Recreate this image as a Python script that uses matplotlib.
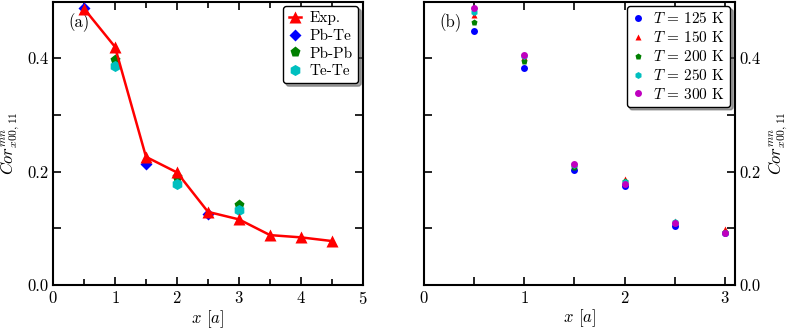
import matplotlib
matplotlib.use("Agg")
import matplotlib.pyplot as plt
from matplotlib.ticker import MultipleLocator, FixedLocator

plt.rcParams['font.family'] = 'serif'
plt.rcParams['font.serif'] = ['cmr10']
plt.rcParams['mathtext.fontset'] = 'cm'
plt.rcParams['axes.formatter.use_mathtext'] = True
plt.rcParams['font.size'] = 12

# Panel (a)
exp_x = [0.5, 1.0, 1.5, 2.0, 2.5, 3.0, 3.5, 4.0, 4.5]
exp_y = [0.4875, 0.420, 0.226, 0.1985, 0.129, 0.1157, 0.088, 0.084, 0.0775]
pbte_x = [0.5, 1.5, 2.5]
pbte_y = [0.489, 0.213, 0.125]
pbpb_x = [1.0, 2.0, 3.0]
pbpb_y = [0.3977, 0.191, 0.141]
tete_x = [1.0, 2.0, 3.0]
tete_y = [0.386, 0.178, 0.132]

# Panel (b)
dist_b = [0.5, 1.0, 1.5, 2.0, 2.5, 3.0]
temps = ['125', '150', '200', '250', '300']
t125 = [0.448, 0.383, 0.2026, 0.175, 0.1045, 0.092]
t150 = [0.477, 0.402, 0.212, 0.187, 0.1133, 0.098]
t200 = [0.464, 0.395, 0.2078, 0.183, 0.110, 0.093]
t250 = [0.4816, 0.403, 0.212, 0.181, 0.111, 0.092]
t300 = [0.489, 0.405, 0.214, 0.179, 0.1087, 0.091]

fig = plt.figure(figsize=(7.88, 3.31), dpi=100)
ax1 = fig.add_axes([53/788, 1-285/331, 310/788, 283.5/331])
ax2 = fig.add_axes([424/788, 1-285/331, 311/788, 283.5/331])

ax1.plot(pbte_x, pbte_y, 'D', color='blue', ms=6, label='Pb-Te', zorder=3, mec='none')
ax1.plot(pbpb_x, pbpb_y, 'p', color='green', ms=8, label='Pb-Pb', zorder=3, mec='none')
ax1.plot(tete_x, tete_y, 'h', color='c', ms=8, label='Te-Te', zorder=3, mec='none')
ax1.plot(exp_x, exp_y, '-^', color='red', lw=1.8, ms=8, label='Exp.', zorder=4, mec='none')
h, l = ax1.get_legend_handles_labels()
order = [3, 0, 1, 2]
ax1.legend([h[i] for i in order], [l[i] for i in order], loc='upper right',
           fancybox=True, shadow=True, framealpha=1, edgecolor='black',
           handlelength=0.8, handletextpad=0.6, labelspacing=0.25,
           borderaxespad=0.3, borderpad=0.35, fontsize=11)
ax1.set_xlim(0, 5)
ax1.set_ylim(0, 0.5)
ax1.xaxis.set_major_locator(MultipleLocator(1))
ax1.xaxis.set_minor_locator(MultipleLocator(0.5))
ax1.yaxis.set_major_locator(FixedLocator([0.0, 0.2, 0.4]))
ax1.yaxis.set_minor_locator(FixedLocator([0.1, 0.3]))
ax1.yaxis.set_major_formatter(matplotlib.ticker.FormatStrFormatter('%.1f'))
ax1.tick_params(which='both', direction='in', top=True, right=True, width=1.2)
ax1.tick_params(which='major', length=6)
ax1.tick_params(axis='y', which='minor', length=6)
ax1.tick_params(axis='x', which='minor', length=4)
ax1.set_xlabel('$x$ $[a]$', labelpad=1)
ax1.set_ylabel('$Cor^{mn}_{x00,11}$')
ax1.text(0.05, 0.925, '(a)', transform=ax1.transAxes, va='center', ha='left')

series = [t125, t150, t200, t250, t300]
markers = ['o', '^', 'p', 'h', 'o']
colors = ['blue', 'red', 'green', 'c', 'm']
for vals, t, mk, c in zip(series, temps, markers, colors):
    ax2.plot(dist_b, vals, mk, color=c, ms=5, mec='none', label='$T\\,=\\,%s$ K' % t)
ax2.legend(loc='upper right', fancybox=True, shadow=True, framealpha=1,
           edgecolor='black', handlelength=0.8, handletextpad=0.6,
           labelspacing=0.25, borderaxespad=0.3, borderpad=0.35, fontsize=11)
ax2.set_xlim(0, 3.1)
ax2.set_ylim(0, 0.5)
ax2.xaxis.set_major_locator(MultipleLocator(1))
ax2.xaxis.set_minor_locator(MultipleLocator(0.5))
ax2.yaxis.set_major_locator(FixedLocator([0.0, 0.2, 0.4]))
ax2.yaxis.set_minor_locator(FixedLocator([0.1, 0.3]))
ax2.yaxis.set_major_formatter(matplotlib.ticker.FormatStrFormatter('%.1f'))
ax2.tick_params(which='both', direction='in', top=True, left=True, right=True,
                labelleft=False, labelright=True, width=1.2, length=6)
ax2.yaxis.set_label_position('right')
ax2.set_xlabel('$x$ $[a]$', labelpad=1)
ax2.set_ylabel('$Cor^{mn}_{x00,11}$')
ax2.text(0.05, 0.925, '(b)', transform=ax2.transAxes, va='center', ha='left')

for ax in (ax1, ax2):
    for s in ax.spines.values():
        s.set_linewidth(1.5)

fig.savefig('out.png', dpi=100)
